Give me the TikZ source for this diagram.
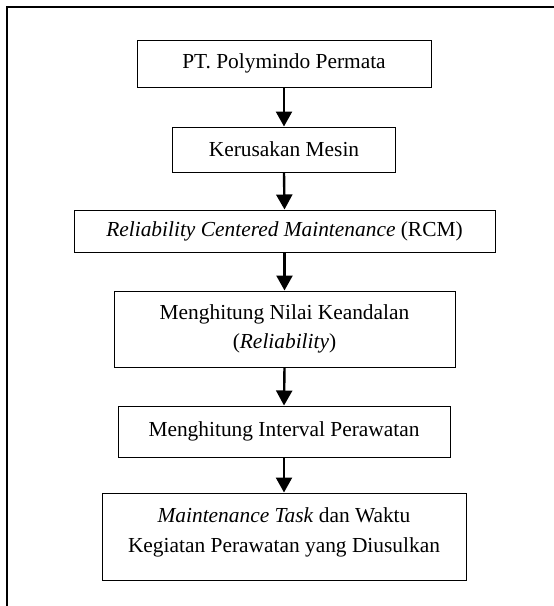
\documentclass[tikz,border=0pt]{standalone}
\usepackage{fontspec}
\setmainfont{Liberation Serif}
\usetikzlibrary{arrows.meta}
\begin{document}
\begin{tikzpicture}[x=1pt,y=-1pt,
  box/.style={draw=black,line width=1pt,rectangle,inner sep=0pt,align=center,
    font=\fontsize{21.4}{29.5}\selectfont},
  flow/.style={line width=2.4pt,-{Triangle[width=16pt,length=15pt]}}]
\useasboundingbox (0,0) rectangle (554,606);
\coordinate (ftr) at (554,6.7);
\coordinate (ftl) at (7,6.7);
\coordinate (fbl) at (7,606);
\draw[line width=1.6pt] (ftr) -- (ftl) -- (fbl);
\node[box,minimum width=294pt,minimum height=47pt] (b1) at (284,63.5) {PT. Polymindo Permata};
\node[box,minimum width=223pt,minimum height=45pt] (b2) at (284,149.5) {Kerusakan Mesin};
\node[box,minimum width=421pt,minimum height=42pt] (b3) at (284.5,231) {\textit{Reliability Centered Maintenance} (RCM)};
\node[box,minimum width=341pt,minimum height=76pt] (b4) at (284.5,329) {Menghitung Nilai Keandalan\\(\textit{Reliability})};
\node[box,minimum width=332pt,minimum height=51pt] (b5) at (284,431.5) {Menghitung Interval Perawatan};
\node[box,minimum width=364pt,minimum height=87pt,text depth=13pt] (b6) at (284,536.5) {\textit{Maintenance Task} dan Waktu\\Kegiatan Perawatan yang Diusulkan};
\draw[flow] (b1.south) -- (b2.north);
\draw[flow] (b2.south) -- (b3.north);
\draw[flow] (b3.south) -- (b4.north);
\draw[flow] (b4.south) -- (b5.north);
\draw[flow] (b5.south) -- (b6.north);
\end{tikzpicture}
\end{document}
